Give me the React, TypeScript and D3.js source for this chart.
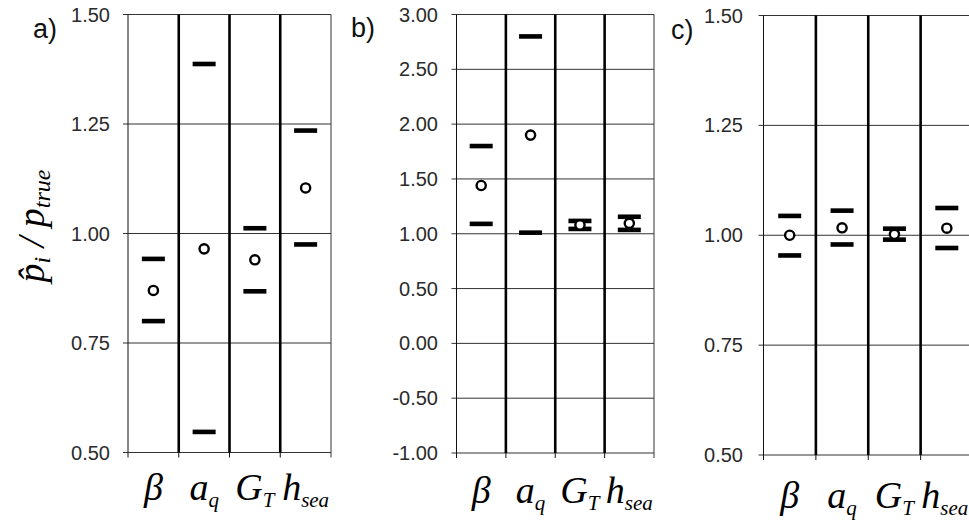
import React from "react";
import * as d3 from "d3";

// ---- data ----
const categoryMain = ["β", "a", "G", "h"];
const categorySub = ["", "q", "T", "sea"];

const panelALabel = "a)";
const panelAUpper = [0.942, 1.387, 1.012, 1.235];
const panelACenter = [0.87, 0.965, 0.94, 1.104];
const panelALower = [0.8, 0.547, 0.868, 0.975];
const panelATicks = [0.5, 0.75, 1.0, 1.25, 1.5];

const panelBLabel = "b)";
const panelBUpper = [1.8, 2.8, 1.117, 1.155];
const panelBCenter = [1.44, 1.9, 1.08, 1.095];
const panelBLower = [1.09, 1.01, 1.044, 1.035];
const panelBTicks = [-1.0, -0.5, 0.0, 0.5, 1.0, 1.5, 2.0, 2.5, 3.0];

const panelCLabel = "c)";
const panelCUpper = [1.044, 1.056, 1.015, 1.062];
const panelCCenter = [1.0, 1.017, 1.002, 1.016];
const panelCLower = [0.954, 0.979, 0.99, 0.971];
const panelCTicks = [0.5, 0.75, 1.0, 1.25, 1.5];

const yLabelMain1 = "p\u0302";
const yLabelSub1 = "i";
const yLabelMain2 = " / p";
const yLabelSub2 = "true";

// ---- layout ----
const W = 969;
const H = 527;

type PanelCfg = {
  label: string;
  upper: number[];
  center: number[];
  lower: number[];
  ticks: number[];
  left: number;
  right: number;
  top: number;
  bottom: number;
  labelX: number;
  labelY: number;
  catY: number;
  tickRight: number;
};

const panels: PanelCfg[] = [
  {
    label: panelALabel, upper: panelAUpper, center: panelACenter, lower: panelALower, ticks: panelATicks,
    left: 128, right: 331, top: 14.5, bottom: 452.5, labelX: 33, labelY: 38, catY: 500, tickRight: 110,
  },
  {
    label: panelBLabel, upper: panelBUpper, center: panelBCenter, lower: panelBLower, ticks: panelBTicks,
    left: 456.5, right: 654, top: 14.5, bottom: 453, labelX: 351, labelY: 37, catY: 503, tickRight: 438,
  },
  {
    label: panelCLabel, upper: panelCUpper, center: panelCCenter, lower: panelCLower, ticks: panelCTicks,
    left: 763.5, right: 973, top: 15.5, bottom: 455, labelX: 671, labelY: 39, catY: 508, tickRight: 743,
  },
];

const fmt = (v: number) => d3.format(".2f")(v).replace("\u2212", "-");
const sansFont = "'Liberation Sans', Arial, sans-serif";
const serifFont = "'Liberation Serif', 'Times New Roman', serif";

function Panel({ cfg, isLast }: { cfg: PanelCfg; isLast: boolean }) {
  const idx = categoryMain.map((_, i) => i);
  const x = d3.scaleBand<number>().domain(idx).range([cfg.left, cfg.right]).padding(0);
  const ext = d3.extent(cfg.ticks) as [number, number];
  const y = d3.scaleLinear().domain(ext).range([cfg.bottom, cfg.top]);
  const bw = x.bandwidth();
  const dashW = 23;
  const dashH = 4.6;
  const boundaries = idx.map((i) => x(i)!).concat([cfg.right]);

  return (
    <g>
      <text x={cfg.labelX} y={cfg.labelY} fontFamily={sansFont} fontSize={27} fill="#111">
        {cfg.label}
      </text>
      {cfg.ticks.map((t) => (
        <g key={t}>
          <line x1={cfg.left - 5} x2={cfg.right} y1={y(t)} y2={y(t)} stroke="#333" strokeWidth={1} />
          <text
            x={cfg.tickRight}
            y={y(t)}
            textAnchor="end"
            dominantBaseline="central"
            fontFamily={sansFont}
            fontSize={20}
            fill="#2a2a2a"
          >
            {fmt(t)}
          </text>
        </g>
      ))}
      <line x1={cfg.left} x2={cfg.left} y1={cfg.top} y2={cfg.bottom + 5} stroke="#111" strokeWidth={1} />
      <line x1={cfg.right} x2={cfg.right} y1={cfg.top} y2={cfg.bottom + 5} stroke="#333" strokeWidth={1} />
      {boundaries.slice(1, -1).map((bx, i) => (
        <g key={i}>
          <line x1={bx} x2={bx} y1={cfg.top} y2={cfg.bottom} stroke="#000" strokeWidth={2.6} />
          <line x1={bx} x2={bx} y1={cfg.bottom} y2={cfg.bottom + 5} stroke="#111" strokeWidth={1} />
        </g>
      ))}
      {idx.map((i) => {
        const cx = x(i)! + bw / 2;
        return (
          <g key={i}>
            <rect x={cx - dashW / 2} y={y(cfg.upper[i]) - dashH / 2} width={dashW} height={dashH} fill="#000" />
            <rect x={cx - dashW / 2} y={y(cfg.lower[i]) - dashH / 2} width={dashW} height={dashH} fill="#000" />
            <circle cx={cx} cy={y(cfg.center[i])} r={4.6} fill="#fff" stroke="#000" strokeWidth={2.4} />
          </g>
        );
      })}
      {idx.map((i) => {
        const cx = x(i)! + bw / 2 + (isLast && i === 3 ? -2 : 0);
        return (
          <text
            key={i}
            x={cx}
            y={cfg.catY}
            textAnchor="middle"
            fontFamily={serifFont}
            fontStyle="italic"
            fontSize={38}
            fill="#000"
          >
            {categoryMain[i]}
            {categorySub[i] ? (
              <tspan fontSize={21} dy={7}>
                {categorySub[i]}
              </tspan>
            ) : null}
          </text>
        );
      })}
    </g>
  );
}

export default function App() {
  return (
    <svg
      width={W}
      height={H}
      viewBox={`0 0 ${W} ${H}`}
      style={{ position: "absolute", left: 0, top: 0, background: "#fff" }}
    >
      <rect x={0} y={0} width={W} height={H} fill="#fff" />
      {panels.map((p, i) => (
        <Panel key={i} cfg={p} isLast={i === panels.length - 1} />
      ))}
      <text
        transform="translate(44,226) rotate(-90)"
        textAnchor="middle"
        fontFamily={serifFont}
        fontStyle="italic"
        fontSize={38}
        fill="#000"
      >
        {yLabelMain1}
        <tspan fontSize={24} dy={6}>{yLabelSub1}</tspan>
        <tspan dy={-6}>{yLabelMain2}</tspan>
        <tspan fontSize={24} dy={6}>{yLabelSub2}</tspan>
      </text>
    </svg>
  );
}
